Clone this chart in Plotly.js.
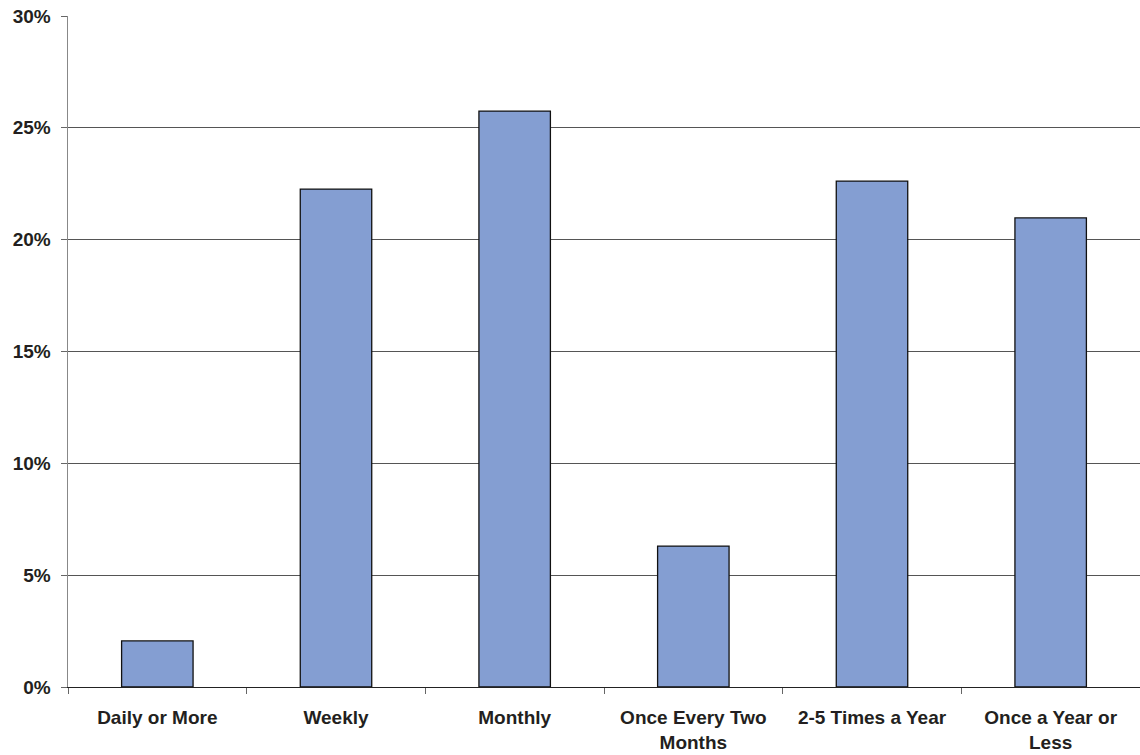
<!DOCTYPE html>
<html>
<head>
<meta charset="utf-8">
<script src="https://cdn.plot.ly/plotly-3.0.1.min.js"></script>
<style>html,body{margin:0;padding:0;background:#fff;}#chart{width:1140px;height:755px;}</style>
</head>
<body>
<div id="chart"></div>
<script>
const categories = ["Daily or More", "Weekly", "Monthly", "Once Every Two<br>Months", "2-5 Times a Year", "Once a Year or<br>Less"];
const shares = [0.0206, 0.2226, 0.2575, 0.0630, 0.2262, 0.2097];
const yTickVals = [0, 0.05, 0.10, 0.15, 0.20, 0.25, 0.30];
const yTickText = ["0%", "5%", "10%", "15%", "20%", "25%", "30%"];

const tickFont = {family: "Liberation Sans, Arial, sans-serif", size: 19, color: "#231f20", weight: "bold"};

Plotly.newPlot("chart", [{
  type: "bar",
  x: categories,
  y: shares,
  marker: {color: "#849ed2", line: {color: "#111", width: 1.3}},
  hoverinfo: "skip"
}], {
  width: 1140, height: 755,
  margin: {l: 68, r: 0, t: 16, b: 68},
  paper_bgcolor: "#fff", plot_bgcolor: "#fff",
  bargap: 0.6,
  showlegend: false,
  font: tickFont,
  xaxis: {
    type: "category",
    tickson: "boundaries",
    ticks: "outside", ticklen: 6, tickcolor: "#666", tickwidth: 1,
    showline: true, linecolor: "#222", linewidth: 1,
    showgrid: false, zeroline: false,
    tickfont: tickFont,
    ticklabelstandoff: 13
  },
  yaxis: {
    range: [0, 0.30],
    tickvals: yTickVals, ticktext: yTickText,
    ticks: "outside", ticklen: 6, tickcolor: "#666", tickwidth: 1,
    showline: true, linecolor: "#888", linewidth: 1.5,
    showgrid: true, gridcolor: "#555", gridwidth: 1,
    zeroline: false,
    tickfont: tickFont,
    ticklabelstandoff: 6
  }
}, {displayModeBar: false, staticPlot: true});
</script>
</body>
</html>
